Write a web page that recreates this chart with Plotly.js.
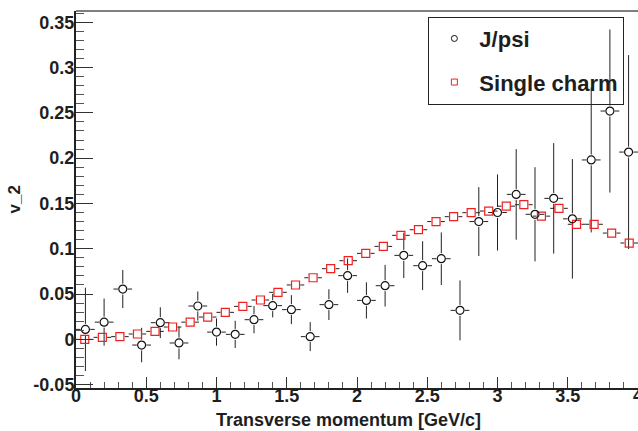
<!DOCTYPE html>
<html>
<head>
<meta charset="utf-8">
<script src="https://cdn.plot.ly/plotly-3.0.1.min.js"></script>
<style>html,body{margin:0;padding:0;background:#fff;}#chart{width:638px;height:431px;}</style>
</head>
<body>
<div id="chart"></div>
<script>
// ---- data ----
const jpsiX = [0.067,0.2,0.333,0.467,0.6,0.733,0.867,1.0,1.133,1.267,1.4,1.533,1.667,1.8,1.933,2.067,2.2,2.333,2.467,2.6,2.733,2.867,3.0,3.133,3.267,3.4,3.533,3.667,3.8,3.933];
const jpsiY = [0.011,0.019,0.0555,-0.0063,0.0184,-0.004,0.0368,0.008,0.0055,0.0217,0.0372,0.0328,0.003,0.0383,0.0703,0.043,0.0592,0.0927,0.0813,0.089,0.032,0.130,0.140,0.160,0.138,0.1556,0.133,0.198,0.252,0.2067];
const jpsiErr = [0.046,0.026,0.021,0.019,0.017,0.018,0.016,0.015,0.015,0.015,0.013,0.016,0.016,0.017,0.019,0.020,0.023,0.025,0.027,0.029,0.033,0.038,0.042,0.050,0.052,0.061,0.066,0.080,0.090,0.107];
const jpsiHalfWidth = 0.0667;

const charmX = [0.0625,0.1875,0.3125,0.4375,0.5625,0.6875,0.8125,0.9375,1.0625,1.1875,1.3125,1.4375,1.5625,1.6875,1.8125,1.9375,2.0625,2.1875,2.3125,2.4375,2.5625,2.6875,2.8125,2.9375,3.0625,3.1875,3.3125,3.4375,3.5625,3.6875,3.8125,3.9375];
const charmY = [0.0,0.0022,0.003,0.0059,0.0088,0.0136,0.019,0.0246,0.0298,0.0364,0.0434,0.0519,0.060,0.068,0.078,0.0868,0.0949,0.1026,0.1148,0.121,0.130,0.1354,0.1398,0.1416,0.147,0.1486,0.136,0.1446,0.127,0.127,0.1173,0.1063];
const charmHalfWidth = 0.0625;

const xTickVals = [0,0.5,1,1.5,2,2.5,3,3.5,4];
const xTickText = ["0","0.5","1","1.5","2","2.5","3","3.5","4"];
const yTickVals = [-0.05,0,0.05,0.1,0.15,0.2,0.25,0.3,0.35];
const yTickText = ["-0.05","0","0.05","0.1","0.15","0.2","0.25","0.3","0.35"];

const seriesNames = ["J/psi","Single charm"];
const xTitle = "Transverse momentum [GeV/c]";
const yTitle = "v_2";

// ---- error-bar segments with a gap around the marker (ROOT style) ----
const gapX = 0.034, gapY = 0.006;
function errSegments(xs, ys, hw, errs) {
  const sx = [], sy = [];
  for (let i = 0; i < xs.length; i++) {
    const x = xs[i], y = ys[i];
    sx.push(x - hw, x - gapX, null, x + gapX, x + hw, null);
    sy.push(y, y, null, y, y, null);
    if (errs && errs[i] > gapY) {
      sx.push(x, x, null, x, x, null);
      sy.push(y + gapY, y + errs[i], null, y - gapY, y - errs[i], null);
    }
  }
  return {x: sx, y: sy};
}
const jSeg = errSegments(jpsiX, jpsiY, jpsiHalfWidth, jpsiErr);
const cSeg = errSegments(charmX, charmY, charmHalfWidth, null);

const FONT = "Liberation Sans, Arial, Helvetica, sans-serif";
const TXT = "#1e1e1e";

const traces = [
  {x: cSeg.x, y: cSeg.y, mode: 'lines', line: {color: '#222', width: 1}, showlegend: false, hoverinfo: 'skip', connectgaps: false},
  {x: jSeg.x, y: jSeg.y, mode: 'lines', line: {color: '#222', width: 1}, showlegend: false, hoverinfo: 'skip', connectgaps: false},
  {x: charmX, y: charmY, mode: 'markers', showlegend: false,
   marker: {symbol: 'square-open', size: 8, color: '#f02020', line: {width: 1.2, color: '#f02020'}}},
  {x: jpsiX, y: jpsiY, mode: 'markers', showlegend: false,
   marker: {symbol: 'circle-open', size: 8, color: '#111', line: {width: 1.2, color: '#111'}}},
  // legend entries
  {x: [null], y: [null], mode: 'markers', name: seriesNames[0], legendgroup: 'a',
   marker: {symbol: 'circle-open', size: 6, color: '#111', line: {width: 1, color: '#111'}}},
  {x: [null], y: [null], mode: 'markers', name: seriesNames[1], legendgroup: 'b',
   marker: {symbol: 'square-open', size: 6, color: '#f02020', line: {width: 1, color: '#f02020'}}}
];

const layout = {
  width: 638, height: 431,
  margin: {l: 76, r: 0, t: 11, b: 43, pad: 0},
  paper_bgcolor: '#fff', plot_bgcolor: '#fff',
  font: {family: FONT, color: TXT, size: 18, weight: 'bold'},
  showlegend: true,
  legend: {
    x: 0.627, y: 0.985, xanchor: 'left', yanchor: 'top',
    bgcolor: 'rgba(255,255,255,0)', bordercolor: '#222', borderwidth: 1,
    font: {family: FONT, size: 22, color: TXT, weight: 'bold'},
    itemwidth: 40, tracegroupgap: 12, traceorder: 'grouped'
  },
  xaxis: {
    range: [0, 4], showgrid: false, zeroline: false,
    showline: true, linecolor: '#222', linewidth: 2,
    tickmode: 'array', tickvals: xTickVals, ticktext: xTickText,
    ticks: 'inside', ticklen: 11, tickwidth: 1, tickcolor: '#333',
    ticklabelstandoff: -10, ticklabeloverflow: 'allow',
    tickfont: {family: FONT, size: 18, color: TXT, weight: 'bold'},
    minor: {tickmode: 'linear', tick0: 0, dtick: 0.1, ticks: 'inside', ticklen: 6, tickwidth: 1, tickcolor: '#555', showgrid: false}
  },
  yaxis: {
    range: [-0.0537, 0.3624], showgrid: false, zeroline: false,
    showline: true, linecolor: '#222', linewidth: 2,
    tickmode: 'array', tickvals: yTickVals, ticktext: yTickText,
    ticks: 'inside', ticklen: 17, tickwidth: 1, tickcolor: '#333',
    ticklabelstandoff: -4, ticklabeloverflow: 'allow',
    tickfont: {family: FONT, size: 18, color: TXT, weight: 'bold'},
    minor: {tickmode: 'linear', tick0: 0, dtick: 0.01, ticks: 'inside', ticklen: 8, tickwidth: 1, tickcolor: '#555', showgrid: false}
  },
  shapes: [
    {type: 'line', xref: 'paper', yref: 'paper', x0: 0, x1: 1, y0: 1, y1: 1, line: {color: '#555', width: 1.5}}
  ],
  annotations: [
    {text: xTitle, xref: 'paper', yref: 'paper', x: (348 - 76) / 562, y: 0, xanchor: 'center', yanchor: 'top',
     yshift: -20, showarrow: false, font: {family: FONT, size: 18, color: TXT, weight: 'bold'}},
    {text: yTitle, xref: 'paper', yref: 'paper', x: 0, y: 0.5, xanchor: 'center', yanchor: 'middle',
     xshift: -62, textangle: -90, showarrow: false, font: {family: FONT, size: 17, color: TXT, weight: 'bold'}}
  ]
};

Plotly.newPlot('chart', traces, layout, {staticPlot: true, displayModeBar: false});
</script>
</body>
</html>
